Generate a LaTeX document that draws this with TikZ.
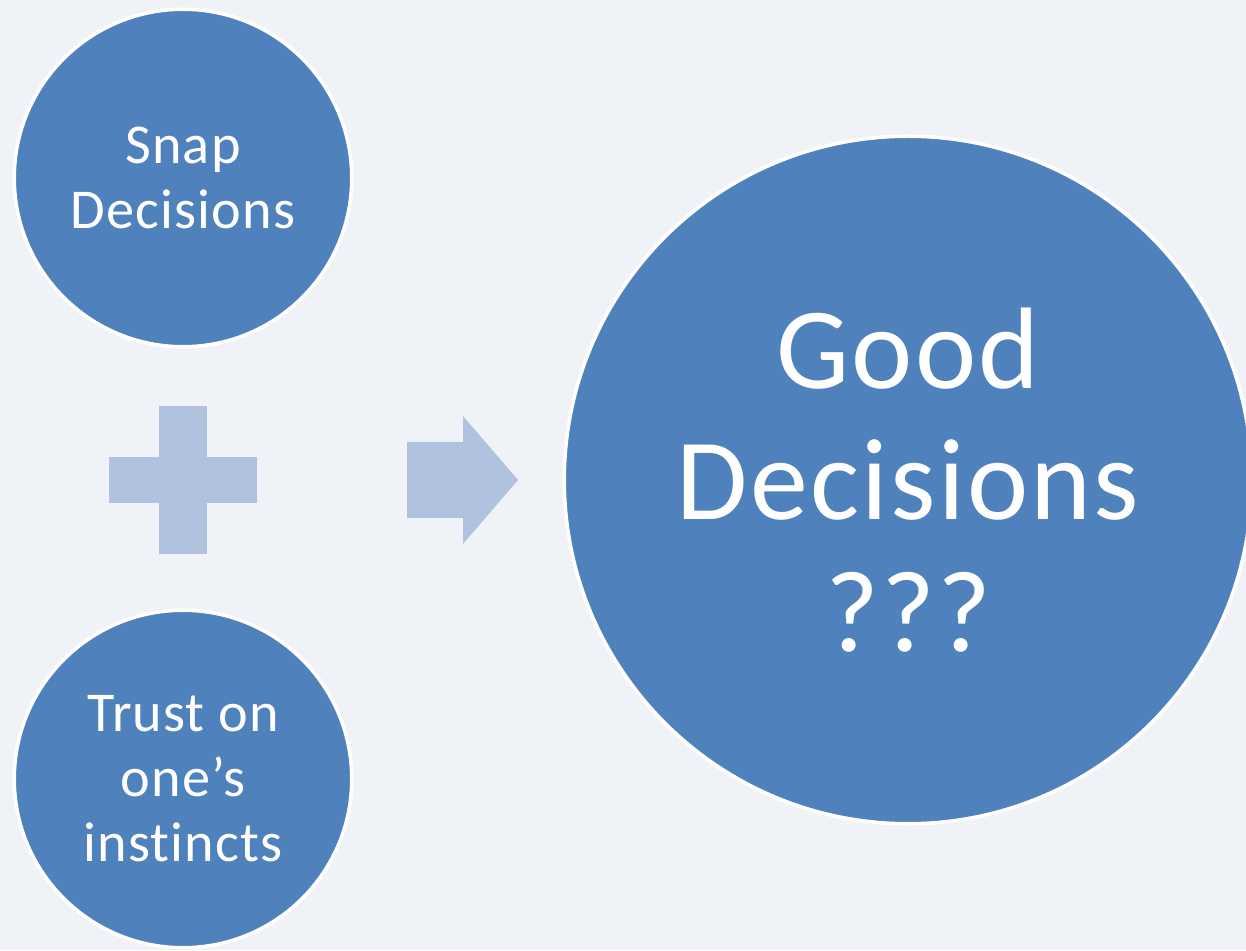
\documentclass[tikz,border=0pt]{standalone}
\usepackage{fontspec}
\setmainfont{Carlito}[Ligatures=NoCommon, LetterSpace=2]
\definecolor{circblue}{HTML}{4F81BD}
\definecolor{signblue}{HTML}{B0C2DE}
\definecolor{paper}{HTML}{EFF2F7}
\tikzset{
  bubble/.style={circle, fill=circblue, draw=white, line width=2pt,
    inner sep=0pt, text=white, align=center},
  small/.style={bubble, minimum size=6.75cm, font=\fontsize{32}{37}\selectfont},
  big/.style={bubble, minimum size=13.75cm, font=\fontsize{66}{75}\selectfont},
}
\begin{document}
\begin{tikzpicture}
    \clip (0,0) rectangle (24.92,19);
    \fill[paper] (0,0) rectangle (24.92,19);

    \node[small] (snap) at (3.66,15.44) {Snap\\Decisions};
    \node[small] (trust) at (3.66,3.42) {Trust on\\one’s\\instincts};
    \node[big] (good) at (18.16,9.4) {Good\\Decisions\\???};

    % plus sign
    \fill[signblue] (2.18,8.94) rectangle (5.14,9.86);
    \fill[signblue] (3.18,7.92) rectangle (4.14,10.88);

    % arrow
    \fill[signblue] (8.14,8.64) -- (9.26,8.64) -- (9.26,8.12) -- (10.36,9.4)
      -- (9.26,10.68) -- (9.26,10.16) -- (8.14,10.16) -- cycle;
  \end{tikzpicture}
\end{document}
